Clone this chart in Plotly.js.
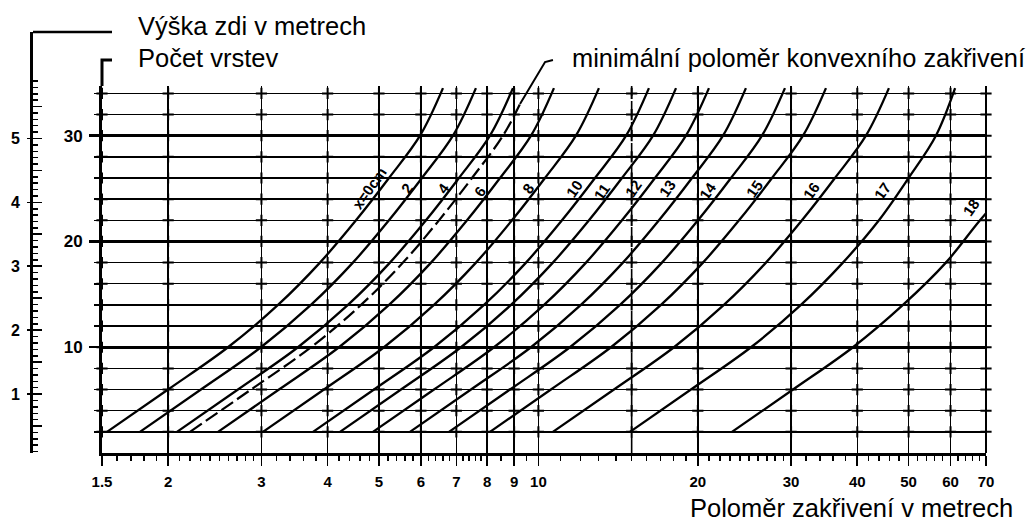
<!DOCTYPE html>
<html><head><meta charset="utf-8">
<script src="https://cdn.plot.ly/plotly-3.0.1.min.js"></script>
<style>html,body{margin:0;padding:0;background:#fff}#chart{width:1031px;height:524px}</style>
</head><body><div id="chart"></div>
<script>
// ---- data (radius of curvature in m vs. number of layers) ----
const layersStd = [2, 6, 10, 14, 18, 22, 26, 30, 34.5];
const layers18  = [2, 6, 10, 14, 18, 22, 26];
const layersMin = [2, 6, 10, 14, 18, 22, 26, 30, 33];

const r_x0  = [1.533, 1.999, 2.594, 3.224, 3.869, 4.525, 5.223, 5.977, 6.605];
const r_x2  = [1.769, 2.306, 2.993, 3.720, 4.465, 5.222, 6.027, 6.897, 7.622];
const r_x4  = [2.078, 2.709, 3.516, 4.370, 5.245, 6.134, 7.080, 8.101, 8.953];
const r_x6  = [2.484, 3.238, 4.203, 5.224, 6.270, 7.332, 8.464, 9.684, 10.70];
const r_x8  = [3.020, 3.937, 5.110, 6.351, 7.623, 8.914, 10.29, 11.77, 13.01];
const r_x10 = [3.754, 4.894, 6.352, 7.895, 9.476, 11.08, 12.79, 14.64, 16.17];
const r_x11 = [4.221, 5.503, 7.142, 8.877, 10.65, 12.46, 14.38, 16.46, 18.19];
const r_x12 = [4.872, 6.352, 8.244, 10.25, 12.30, 14.38, 16.60, 18.99, 20.99];
const r_x13 = [5.722, 7.460, 9.682, 12.03, 14.44, 16.89, 19.50, 22.31, 24.65];
const r_x14 = [6.780, 8.839, 11.47, 14.26, 17.11, 20.01, 23.10, 26.43, 29.21];
const r_x15 = [8.102, 10.56, 13.71, 17.04, 20.45, 23.92, 27.61, 31.59, 34.91];
const r_x16 = [10.65, 13.89, 18.03, 22.40, 26.89, 31.45, 36.30, 41.53, 45.90];
const r_x17 = [14.89, 19.41, 25.20, 31.31, 37.58, 43.95, 50.00, 56.30, 61.20];
const r_x18 = [23.20, 30.25, 39.26, 48.79, 58.80, 68.20, 80.00];
const r_min = [2.199, 2.867, 3.721, 4.625, 5.551, 6.491, 7.492, 8.573, 9.230];

const curveLabels = ['x=0cm','2','4','6','8','10','11','12','13','14','15','16','17','18'];
const labelR      = [4.79, 5.64, 6.61, 7.76, 9.56, 11.7, 13.2, 15.1, 17.5, 20.9, 25.6, 32.8, 44.7, 65.6];
const labelLayer  = [25.0, 25.0, 25.0, 24.7, 25.0, 25.0, 24.7, 25.0, 25.0, 24.8, 25.0, 24.8, 24.8, 23.2];

// ---- ticks ----
const xTickVals = [1.5,2,3,4,5,6,7,8,9,10,20,30,40,50,60,70];
const xTickText = ['1.5','2','3','4','5','6','7','8','9','10','20','30','40','50','60','70'];
const xMinorVals = [1.6,1.7,1.8,1.9,2.1,2.2,2.3,2.4,2.5,2.6,2.7,2.8,2.9,3.2,3.4,3.6,3.8,4.2,4.4,4.6,4.8,
  5.2,5.4,5.6,5.8,6.2,6.4,6.6,6.8,7.2,7.4,7.6,7.8,8.5,9.5,11,12,13,14,15,16,17,18,19,
  21,22,23,24,25,26,27,28,29,32,34,36,38,42,44,46,48,52,54,56,58,62,64,66,68];
const crossX = [1.5,2,3,4,5,6,7,8,9,10,15,20,30,40,50,60,70];
const yGridVals = [2,4,6,8,10,12,14,16,18,20,22,24,26,28,30,32,34];
const yLabelVals = [10,20,30];
const hMajorVals = [0.5,1,1.5,2,2.5,3,3.5,4,4.5,5,5.5];
const hMinorVals = [0.1,0.2,0.3,0.4,0.6,0.7,0.8,0.9,1.1,1.2,1.3,1.4,1.6,1.7,1.8,1.9,2.1,2.2,2.3,2.4,2.6,2.7,2.8,2.9,
  3.1,3.2,3.3,3.4,3.6,3.7,3.8,3.9,4.1,4.2,4.3,4.4,4.6,4.7,4.8,4.9,5.1,5.2,5.3,5.4,5.6,5.7,5.8,5.9];
const hLabelVals = [1,2,3,4,5];
const dashedRadius = 15;

const curves = [r_x0,r_x2,r_x4,r_x6,r_x8,r_x10,r_x11,r_x12,r_x13,r_x14,r_x15,r_x16,r_x17,r_x18];

const traces = [];
curves.forEach((r, i) => {
  traces.push({x: r, y: (i === 13 ? layers18 : layersStd), mode:'lines', xaxis:'x', yaxis:'y',
    line:{color:'#000', width:2.3, shape:'spline'}, hoverinfo:'skip'});
});
traces.push({x: r_min, y: layersMin, mode:'lines', xaxis:'x', yaxis:'y',
  line:{color:'#000', width:2.2, dash:'14px,5px', shape:'spline'}, hoverinfo:'skip'});
traces.push({x:[dashedRadius, dashedRadius], y:[0, 34.7], mode:'lines', xaxis:'x', yaxis:'y',
  line:{color:'#000', width:1.6, dash:'16px,5px'}, hoverinfo:'skip'});
// grid crosses
const cx = [], cy = [];
crossX.forEach(a => yGridVals.forEach(b => { cx.push(a); cy.push(b); }));
traces.push({x:cx, y:cy, mode:'markers', xaxis:'x', yaxis:'y', cliponaxis:false,
  marker:{symbol:'cross-thin', size:8, color:'#000', line:{color:'#000', width:2}}, hoverinfo:'skip'});
// dummy traces for the wall-height scale
traces.push({x:[0], y:[1], mode:'markers', xaxis:'x2', yaxis:'y2', marker:{opacity:0}, hoverinfo:'skip'});
traces.push({x:[0], y:[1], mode:'markers', xaxis:'x2', yaxis:'y3', marker:{opacity:0}, hoverinfo:'skip'});

const annotations = curveLabels.map((t, i) => ({
  x: Math.log10(labelR[i]), y: labelLayer[i], xref:'x', yref:'y', text: t, showarrow:false,
  textangle:-55, font:{size:15, weight:700, color:'#000'}, xanchor:'center', yanchor:'middle'
}));
const tfont = {size:25.5, color:'#000', family:'Arial, "Liberation Sans", sans-serif'};
const tfont2 = {size:25.4, color:'#000', family:'Arial, "Liberation Sans", sans-serif'};
annotations.push({xref:'paper', yref:'paper', x:0.1081, y:1.0143, xanchor:'left', yanchor:'middle', text:'Výška zdi v metrech', showarrow:false, font:tfont});
annotations.push({xref:'paper', yref:'paper', x:0.1081, y:0.9382, xanchor:'left', yanchor:'middle', text:'Počet vrstev', showarrow:false, font:tfont});
annotations.push({xref:'paper', yref:'paper', x:1.0430, y:0.9382, xanchor:'right', yanchor:'middle', text:'minimální poloměr konvexního zakřivení', showarrow:false, font:tfont2});
annotations.push({xref:'paper', yref:'paper', x:0.6873, y:-0.1306, xanchor:'left', yanchor:'middle', text:'Poloměr zakřivení v metrech', showarrow:false, font:tfont});

const shapes = [
  {type:'line', xref:'paper', yref:'paper', x0:0, y0:1, x1:0.0829, y1:1, line:{color:'#000', width:2.5}},
  {type:'path', xref:'paper', yref:'paper', path:'M 0.0724 0.8717 L 0.0724 0.9335 L 0.0829 0.9335', line:{color:'#000', width:3}},
  {type:'line', xref:'x domain', yref:'y domain', x0:1, x1:1, y0:0, y1:1, line:{color:'#000', width:2}},
  {type:'path', xref:'paper', yref:'paper', path:'M 0.5110 0.8290 L 0.5373 0.9287 L 0.5456 0.9335', line:{color:'#000', width:2}}
];

const layout = {
  width:1031, height:524, margin:{l:33, r:45, t:32, b:71, pad:0},
  paper_bgcolor:'#fff', plot_bgcolor:'#fff', showlegend:false,
  font:{family:'Arial, "Liberation Sans", sans-serif', color:'#000'},
  xaxis:{type:'log', domain:[0.0724, 1], range:[Math.log10(1.5), Math.log10(70)], anchor:'y',
    tickmode:'array', tickvals:xTickVals, ticktext:xTickText, ticks:'outside', ticklen:10, tickwidth:1.6, tickcolor:'#000',
    showgrid:true, gridcolor:'#000', gridwidth:1.4, showline:true, linecolor:'#000', linewidth:3, zeroline:false,
    tickfont:{size:15, weight:700}, ticklabelstandoff:3, automargin:false,
    minor:{tickmode:'array', tickvals:xMinorVals, ticks:'outside', ticklen:5, tickwidth:1.5, tickcolor:'#000', showgrid:false}},
  yaxis:{domain:[0, 0.87173], range:[0, 34.7], anchor:'x',
    tickmode:'array', tickvals:yLabelVals, ticktext:['10','20','30'], ticks:'outside', ticklen:10, tickwidth:2.5, tickcolor:'#000',
    showgrid:true, gridcolor:'#000', gridwidth:2.8, showline:true, linecolor:'#000', linewidth:3, zeroline:false,
    tickfont:{size:17, weight:700}, ticklabelstandoff:3, automargin:false,
    minor:{tickmode:'array', tickvals:yGridVals, ticks:'outside', ticklen:5, tickwidth:1.5, tickcolor:'#000',
      showgrid:true, gridcolor:'#000', gridwidth:1.4}},
  xaxis2:{domain:[0, 0.01], anchor:'y2', visible:false, range:[0, 1]},
  yaxis2:{domain:[0, 1], anchor:'x2', side:'left', range:[0.078, 6.667],
    showline:true, linecolor:'#000', linewidth:3, zeroline:false, showgrid:false,
    tickmode:'array', tickvals:hMajorVals, ticks:'inside', ticklen:9, tickwidth:1.8, tickcolor:'#000', showticklabels:false, automargin:false,
    minor:{tickmode:'array', tickvals:hMinorVals, ticks:'inside', ticklen:5, tickwidth:1.5, tickcolor:'#000', showgrid:false}},
  yaxis3:{overlaying:'y2', anchor:'x2', side:'left', range:[0.078, 6.667], showline:false, zeroline:false, showgrid:false,
    tickmode:'array', tickvals:hLabelVals, ticktext:['1','2','3','4','5'], ticks:'outside', ticklen:5, tickwidth:1.8, tickcolor:'#000',
    tickfont:{size:16, weight:700}, ticklabelstandoff:4, automargin:false},
  annotations: annotations,
  shapes: shapes
};

Plotly.newPlot('chart', traces, layout, {staticPlot:true, displayModeBar:false});
</script></body></html>
